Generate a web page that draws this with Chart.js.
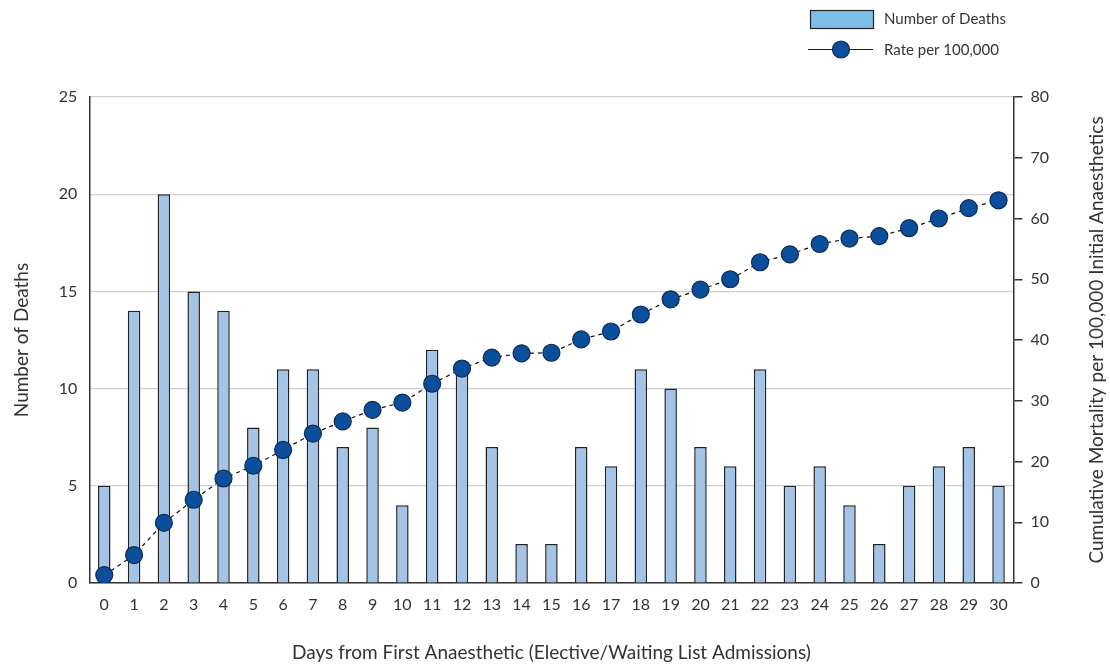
<!DOCTYPE html>
<html>
<head>
<meta charset="utf-8">
<script src="https://cdn.jsdelivr.net/npm/chart.js@4/dist/chart.umd.min.js"></script>
<style>
  html, body { margin: 0; padding: 0; background: #fff; }
  #wrap { width: 1110px; height: 664px; position: relative; }
</style>
</head>
<body>
<div id="wrap"><canvas id="myChart" width="1110" height="664"></canvas></div>
<script>
// days 0..30
const days = ['0','1','2','3','4','5','6','7','8','9','10','11','12','13','14','15','16','17','18','19','20','21','22','23','24','25','26','27','28','29','30'];
const deaths = [5,14,20,15,14,8,11,11,7,8,4,12,11,7,2,2,7,6,11,10,7,6,11,5,6,4,2,5,6,7,5];
const ratePer100k = [1.3,4.6,9.9,13.7,17.2,19.3,21.9,24.6,26.6,28.5,29.7,32.8,35.3,37.1,37.8,37.9,40.1,41.4,44.2,46.7,48.3,50.0,52.8,54.1,55.8,56.7,57.1,58.4,60.0,61.7,63.0];
const rightTitle = 'Cumulative Mortality per 100,000 Initial Anaesthetics';

const FONT = 'Lato, "DejaVu Sans", sans-serif';
const TXT = '#333';

// ---- legend drawn in the top right corner ----
const cornerLegend = {
  id: 'cornerLegend',
  afterDraw(chart) {
    const ctx = chart.ctx;
    ctx.save();
    // bar swatch
    ctx.fillStyle = '#7dbde9';
    ctx.strokeStyle = '#222';
    ctx.lineWidth = 1.2;
    ctx.fillRect(810, 10, 63, 18);
    ctx.strokeRect(810.5, 10.5, 63, 18);
    // line + point swatch
    ctx.beginPath();
    ctx.moveTo(808, 49.5);
    ctx.lineTo(873, 49.5);
    ctx.stroke();
    ctx.beginPath();
    ctx.arc(841, 49.5, 8.5, 0, Math.PI * 2);
    ctx.fillStyle = '#0b4f9c';
    ctx.fill();
    ctx.strokeStyle = '#0a2a55';
    ctx.stroke();
    ctx.fillStyle = TXT;
    ctx.font = '15px ' + FONT;
    ctx.textBaseline = 'middle';
    ctx.fillText('Number of Deaths', 884, 19);
    ctx.fillText('Rate per 100,000', 884, 50);
    ctx.restore();
  }
};

// right axis title reads bottom to top, like the left one
const rightAxisTitle = {
  id: 'rightAxisTitle',
  afterDraw(chart) {
    const { ctx, chartArea: { top, bottom } } = chart;
    ctx.save();
    ctx.translate(1097, (top + bottom) / 2);
    ctx.rotate(-Math.PI / 2);
    ctx.fillStyle = TXT;
    ctx.font = '19px ' + FONT;
    ctx.textAlign = 'center';
    ctx.textBaseline = 'middle';
    ctx.fillText(rightTitle, 0, 0);
    ctx.restore();
  }
};

const config = {
  type: 'bar',
  data: {
    labels: days,
    datasets: [
      {
        type: 'line',
        label: 'Rate per 100,000',
        data: ratePer100k,
        yAxisID: 'yRate',
        borderColor: '#111',
        borderWidth: 1.2,
        borderDash: [4, 4],
        pointRadius: 8.5,
        pointBackgroundColor: '#0b4f9c',
        pointBorderColor: '#0a2a55',
        pointBorderWidth: 1.2,
        tension: 0,
        order: 0
      },
      {
        type: 'bar',
        label: 'Number of Deaths',
        data: deaths,
        yAxisID: 'y',
        backgroundColor: '#a3c3e7',
        borderColor: '#222',
        borderWidth: 1.5,
        barPercentage: 0.42,
        categoryPercentage: 1.0,
        order: 1
      }
    ]
  },
  options: {
    responsive: false,
    animation: false,
    layout: { padding: { top: 97, left: 0, right: 53, bottom: 0 } },
    plugins: {
      legend: { display: false },
      tooltip: { enabled: false }
    },
    scales: {
      x: {
        offset: true,
        grid: { display: false, drawTicks: false },
        border: { color: '#333', width: 1.5 },
        ticks: { color: TXT, font: { family: FONT, size: 16 }, padding: 12, maxRotation: 0, autoSkip: false },
        title: { display: true, text: 'Days from First Anaesthetic (Elective/Waiting List Admissions)', color: TXT, font: { family: FONT, size: 19 }, padding: { top: 15, bottom: 0 } }
      },
      y: {
        position: 'left',
        min: 0, max: 25,
        ticks: { stepSize: 5, color: TXT, font: { family: FONT, size: 16 }, padding: 12 },
        grid: { color: '#cfcfcf', lineWidth: 1.2, drawTicks: false },
        border: { color: '#333', width: 1.5 },
        title: { display: true, text: 'Number of Deaths', color: TXT, font: { family: FONT, size: 19 }, padding: { top: 10, bottom: 14 } }
      },
      yRate: {
        position: 'right',
        min: 0, max: 80,
        ticks: { stepSize: 10, color: TXT, font: { family: FONT, size: 16 }, padding: 8 },
        grid: { drawOnChartArea: false, drawTicks: true, tickLength: 9, color: '#333', lineWidth: 1.5 },
        border: { color: '#333', width: 1.5 },
        title: { display: false }
      }
    }
  },
  plugins: [cornerLegend, rightAxisTitle]
};

const myChart = new Chart(document.getElementById('myChart'), config);
</script>
</body>
</html>
